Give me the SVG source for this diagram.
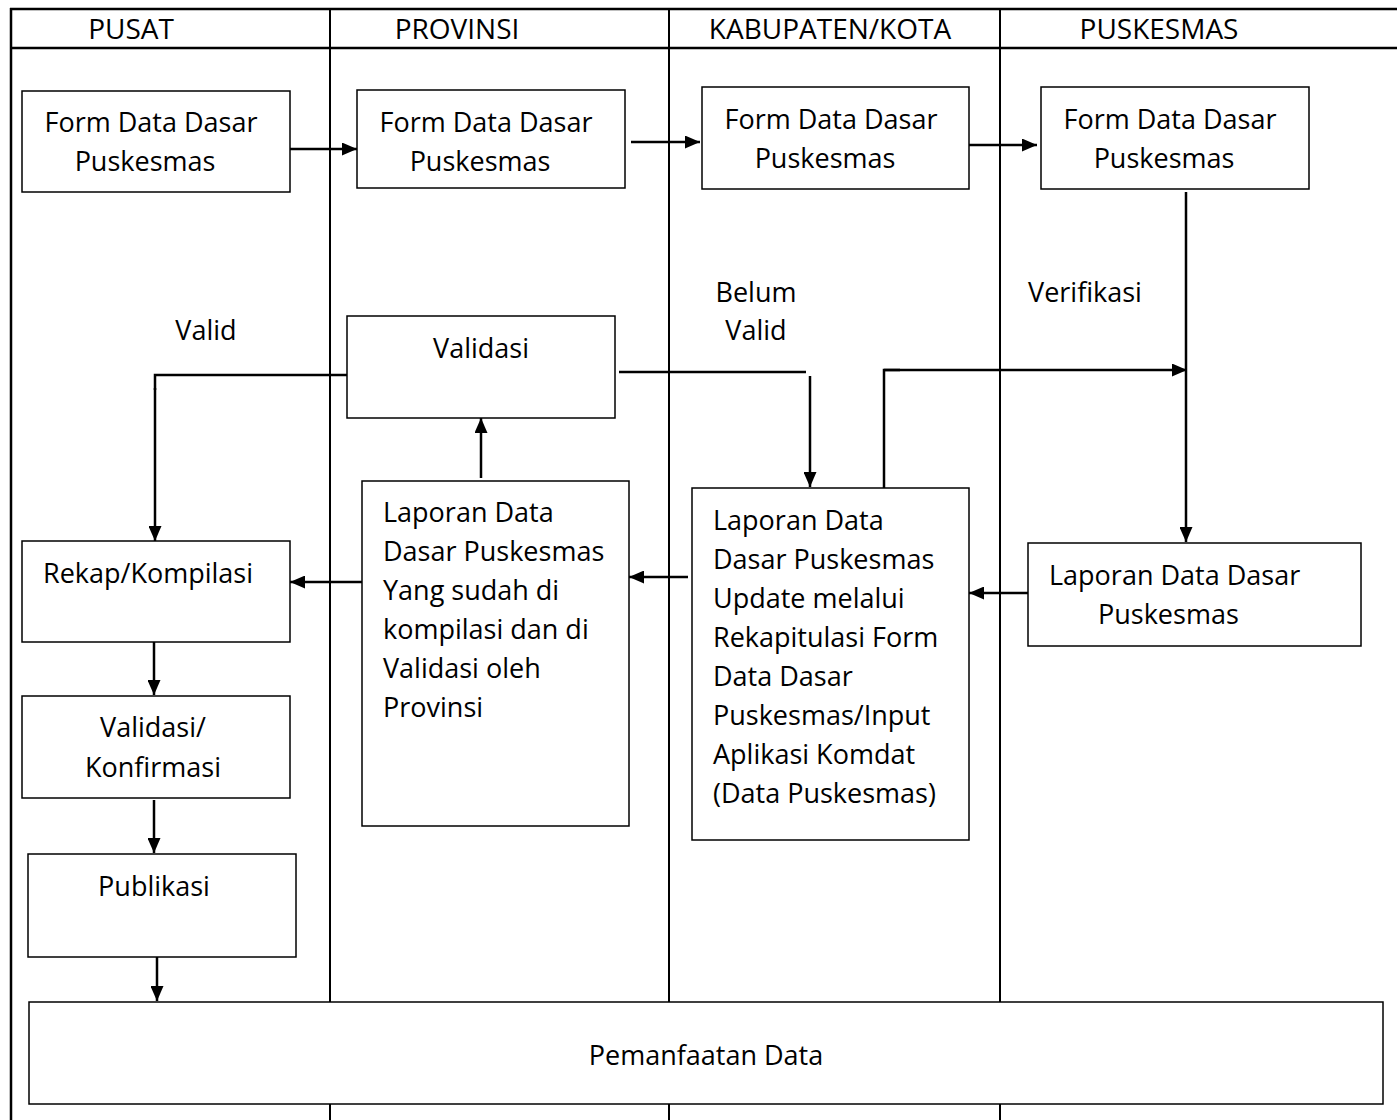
<svg xmlns="http://www.w3.org/2000/svg" width="1397" height="1120" viewBox="0 0 1397 1120">
<defs>
<marker id="ah" markerWidth="15" markerHeight="13" refX="15" refY="6.5" orient="auto" markerUnits="userSpaceOnUse">
<path d="M0,0 L15,6.5 L0,13 Z" fill="#000"/>
</marker>
<style>
text{font-family:"Open Sans","Noto Sans",sans-serif;font-size:27px;fill:#000}
.h{font-size:28px}
.c{text-anchor:middle}
.box{fill:#fff;stroke:#000;stroke-width:1.5}
.frame{stroke:#000;stroke-width:2;fill:none}
.con{stroke:#000;stroke-width:2.5;fill:none}
.conm{stroke:#000;stroke-width:2.5;fill:none;marker-end:url(#ah)}
</style>
</defs>
<rect width="1397" height="1120" fill="#fff"/>
<g id="lanes">
<line class="frame" x1="10" y1="9" x2="1397" y2="9" style="stroke-width:2.5"/>
<line class="frame" x1="10" y1="48" x2="1397" y2="48" style="stroke-width:2.5"/>
<line class="frame" x1="11" y1="8" x2="11" y2="1120" style="stroke-width:2.5"/>
<line class="frame" x1="330" y1="9" x2="330" y2="1120"/>
<line class="frame" x1="669" y1="9" x2="669" y2="1120"/>
<line class="frame" x1="1000" y1="9" x2="1000" y2="1120"/>
<text class="c h" x="131" y="39">PUSAT</text>
<text class="c h" x="457" y="39">PROVINSI</text>
<text class="c h" x="830" y="39">KABUPATEN/KOTA</text>
<text class="c h" x="1159" y="39">PUSKESMAS</text>
</g>
<g id="connectors">
<line class="conm" x1="290" y1="149" x2="357" y2="149"/>
<line class="conm" x1="631" y1="142" x2="700" y2="142"/>
<line class="conm" x1="969" y1="145" x2="1037" y2="145"/>
<line class="conm" x1="1186" y1="192" x2="1186" y2="542"/>
<polyline class="con" points="347,375 155,375 155,390"/>
<line class="conm" x1="155" y1="388" x2="155" y2="541"/>
<line class="con" x1="619" y1="372" x2="806" y2="372"/>
<line class="conm" x1="810" y1="376" x2="810" y2="487"/>
<polyline class="con" points="884,488 884,370 900,370"/>
<line class="conm" x1="884" y1="370" x2="1187" y2="370"/>
<line class="conm" x1="481" y1="478" x2="481" y2="418"/>
<line class="conm" x1="362" y1="582" x2="290" y2="582"/>
<line class="conm" x1="688" y1="577" x2="629" y2="577"/>
<line class="conm" x1="1028" y1="593" x2="969" y2="593"/>
<line class="conm" x1="154" y1="642" x2="154" y2="695"/>
<line class="conm" x1="154" y1="800" x2="154" y2="853"/>
<line class="conm" x1="157" y1="957" x2="157" y2="1001"/>
<text class="c" x="206" y="340">Valid</text>
<text class="c" x="756" y="302">Belum</text>
<text class="c" x="756" y="340">Valid</text>
<text class="c" x="1085" y="302">Verifikasi</text>
</g>
<g id="n-pusat-form">
<rect class="box" x="22" y="91" width="268" height="101"/>
<text class="c" x="151" y="132">Form Data Dasar</text>
<text class="c" x="145" y="171">Puskesmas</text>
</g>
<g id="n-prov-form">
<rect class="box" x="357" y="90" width="268" height="98"/>
<text class="c" x="486" y="132">Form Data Dasar</text>
<text class="c" x="480" y="171">Puskesmas</text>
</g>
<g id="n-kab-form">
<rect class="box" x="702" y="87" width="267" height="102"/>
<text class="c" x="831" y="129">Form Data Dasar</text>
<text class="c" x="825" y="168">Puskesmas</text>
</g>
<g id="n-pusk-form">
<rect class="box" x="1041" y="87" width="268" height="102"/>
<text class="c" x="1170" y="129">Form Data Dasar</text>
<text class="c" x="1164" y="168">Puskesmas</text>
</g>
<g id="n-validasi">
<rect class="box" x="347" y="316" width="268" height="102"/>
<text class="c" x="481" y="358">Validasi</text>
</g>
<g id="n-lap-prov">
<rect class="box" x="362" y="481" width="267" height="345"/>
<text x="383" y="522">Laporan Data</text>
<text x="383" y="561">Dasar Puskesmas</text>
<text x="383" y="600">Yang sudah di</text>
<text x="383" y="639">kompilasi dan di</text>
<text x="383" y="678">Validasi oleh</text>
<text x="383" y="717">Provinsi</text>
</g>
<g id="n-lap-kab">
<rect class="box" x="692" y="488" width="277" height="352"/>
<text x="713" y="530">Laporan Data</text>
<text x="713" y="569">Dasar Puskesmas</text>
<text x="713" y="608">Update melalui</text>
<text x="713" y="647">Rekapitulasi Form</text>
<text x="713" y="686">Data Dasar</text>
<text x="713" y="725">Puskesmas/Input</text>
<text x="713" y="764">Aplikasi Komdat</text>
<text x="713" y="803">(Data Puskesmas)</text>
</g>
<g id="n-lap-pusk">
<rect class="box" x="1028" y="543" width="333" height="103"/>
<text x="1049" y="585">Laporan Data Dasar</text>
<text x="1098" y="624">Puskesmas</text>
</g>
<g id="n-rekap">
<rect class="box" x="22" y="541" width="268" height="101"/>
<text x="43" y="583">Rekap/Kompilasi</text>
</g>
<g id="n-konfirmasi">
<rect class="box" x="22" y="696" width="268" height="102"/>
<text class="c" x="153" y="737">Validasi/</text>
<text class="c" x="153" y="777">Konfirmasi</text>
</g>
<g id="n-publikasi">
<rect class="box" x="28" y="854" width="268" height="103"/>
<text class="c" x="154" y="896">Publikasi</text>
</g>
<g id="n-pemanfaatan">
<rect class="box" x="29" y="1002" width="1354" height="102"/>
<text class="c" x="706" y="1065">Pemanfaatan Data</text>
</g>
</svg>
